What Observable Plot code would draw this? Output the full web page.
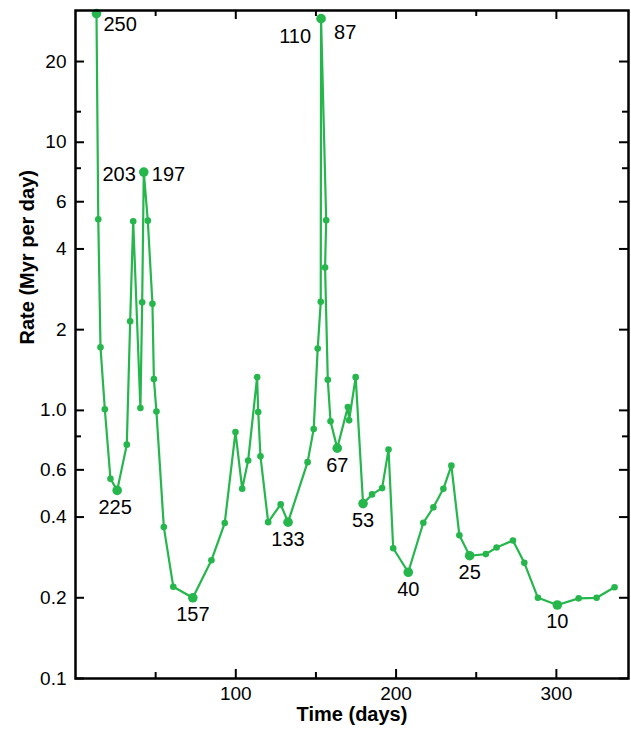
<!DOCTYPE html>
<html><head><meta charset="utf-8">
<script src="https://cdn.jsdelivr.net/npm/d3@7"></script>
<script src="https://cdn.jsdelivr.net/npm/@observablehq/plot@0.6"></script>
<style>body{margin:0;background:#fff} svg{display:block}</style>
</head><body><div id="chart"></div>
<script>
const days = [13.1, 14.2, 15.6, 18.3, 21.8, 26.0, 32.0, 34.1, 36.0, 40.5, 41.6, 42.6, 45.1, 48.0, 48.9, 50.5, 55.1, 61.0, 73.2, 84.8, 93.1, 99.8, 104.0, 107.7, 113.3, 114.0, 115.4, 120.2, 128.0, 132.6, 144.8, 148.6, 151.1, 153.0, 153.2, 156.4, 155.7, 157.4, 159.1, 163.3, 169.9, 170.7, 174.8, 179.4, 185.0, 191.3, 195.3, 198.2, 207.6, 217.0, 223.3, 229.5, 234.5, 239.5, 245.9, 256.0, 262.7, 272.9, 280.0, 288.5, 300.6, 313.9, 325.1, 336.3];
const rates = [30.2, 5.16, 1.72, 1.01, 0.556, 0.503, 0.745, 2.15, 5.07, 1.02, 2.53, 7.74, 5.1, 2.5, 1.31, 0.99, 0.367, 0.220, 0.200, 0.276, 0.380, 0.83, 0.51, 0.65, 1.33, 0.986, 0.674, 0.383, 0.446, 0.383, 0.641, 0.852, 1.70, 2.54, 28.9, 5.12, 3.41, 1.30, 0.91, 0.723, 1.03, 0.918, 1.33, 0.449, 0.486, 0.513, 0.715, 0.306, 0.249, 0.381, 0.435, 0.510, 0.622, 0.342, 0.287, 0.291, 0.308, 0.327, 0.270, 0.200, 0.188, 0.199, 0.200, 0.219];
const labelIndex = [0, 11, 11, 5, 18, 34, 34, 39, 29, 43, 48, 54, 60];
const labelText = ["250", "203", "197", "225", "157", "110", "87", "67", "133", "53", "40", "25", "10"];
const yTickLabels = [0.1, 0.2, 0.4, 0.6, 1, 2, 4, 6, 10, 20];
const yMinorTicks = [0.8, 8, 13];
const xMajorTicks = [100, 200, 300];
const xMinorTicks = [50, 150, 250];
const xTitle = "Time (days)";
const yTitle = "Rate (Myr per day)";

const W = 631, H = 732, mL = 75, mR = 3, mT = 10, mB = 54;
const pw = W - mL - mR, ph = H - mT - mB;
const green = "#25b64c";
const data = days.map((d, i) => ({day: d, rate: rates[i], i}));
const bigSet = new Set(labelIndex);
const labels = labelIndex.map((k, j) => ({day: days[k], rate: rates[k], text: labelText[j]}));
const place = {
  "250": {dx: 7, dy: 11, a: "start"},
  "203": {dx: -8, dy: 3, a: "end"},
  "197": {dx: 8, dy: 3, a: "start"},
  "110": {dx: -10, dy: 18, a: "end"},
  "87": {dx: 13, dy: 14, a: "start"},
  "225": {dx: -2, dy: 17, a: "middle"}
};
const below = labels.filter(l => !place[l.text]);
const special = labels.filter(l => place[l.text]);
const fmt = d => d === 1 ? "1.0" : String(d);

const marks = [
  Plot.line(data, {x: "day", y: "rate", stroke: green, strokeWidth: 2.2}),
  Plot.dot(data.filter(d => !bigSet.has(d.i)), {x: "day", y: "rate", r: 3.3, fill: green}),
  Plot.dot(data.filter(d => bigSet.has(d.i)), {x: "day", y: "rate", r: 4.8, fill: green}),
  Plot.text(below, {x: "day", y: "rate", text: "text", dy: 17, fontSize: 20, fill: "black"}),
  ...special.map(l => Plot.text([l], {x: "day", y: "rate", text: "text", dx: place[l.text].dx, dy: place[l.text].dy, textAnchor: place[l.text].a, fontSize: 20, fill: "black"})),
  // inward ticks
  Plot.tickY(yTickLabels, {y: d => d, insetRight: pw - 9, stroke: "black", strokeWidth: 2}),
  Plot.tickY(yMinorTicks, {y: d => d, insetRight: pw - 6, stroke: "black", strokeWidth: 2}),
  Plot.tickY(yTickLabels, {y: d => d, insetLeft: pw - 9, stroke: "black", strokeWidth: 2}),
  Plot.tickY(yMinorTicks, {y: d => d, insetLeft: pw - 6, stroke: "black", strokeWidth: 2}),
  Plot.tickX(xMajorTicks, {x: d => d, insetTop: ph - 9, stroke: "black", strokeWidth: 2}),
  Plot.tickX(xMinorTicks, {x: d => d, insetTop: ph - 6, stroke: "black", strokeWidth: 2}),
  Plot.tickX(xMajorTicks, {x: d => d, insetBottom: ph - 9, stroke: "black", strokeWidth: 2}),
  Plot.tickX(xMinorTicks, {x: d => d, insetBottom: ph - 6, stroke: "black", strokeWidth: 2}),
  Plot.axisY(yTickLabels, {tickSize: 0, tickPadding: 9, tickFormat: fmt, fontSize: 19, label: null}),
  Plot.axisX(xMajorTicks, {tickSize: 0, tickPadding: 8, fontSize: 19, label: null}),
  Plot.frame({stroke: "black", strokeWidth: 2.5}),
  Plot.text([yTitle], {frameAnchor: "left", dx: -48, rotate: -90, text: d => d, fontSize: 20, fontWeight: "bold", fill: "black"}),
  Plot.text([xTitle], {frameAnchor: "bottom", dy: 42, text: d => d, fontSize: 20, fontWeight: "bold", fill: "black"})
];

const chart = Plot.plot({
  width: W, height: H,
  marginLeft: mL, marginRight: mR, marginTop: mT, marginBottom: mB,
  style: {fontFamily: "'Liberation Sans', Arial, sans-serif", color: "black", background: "white"},
  x: {domain: [0, 345]},
  y: {type: "log", domain: [0.1, 31]},
  marks
});
document.getElementById("chart").append(chart);
</script>
</body></html>
